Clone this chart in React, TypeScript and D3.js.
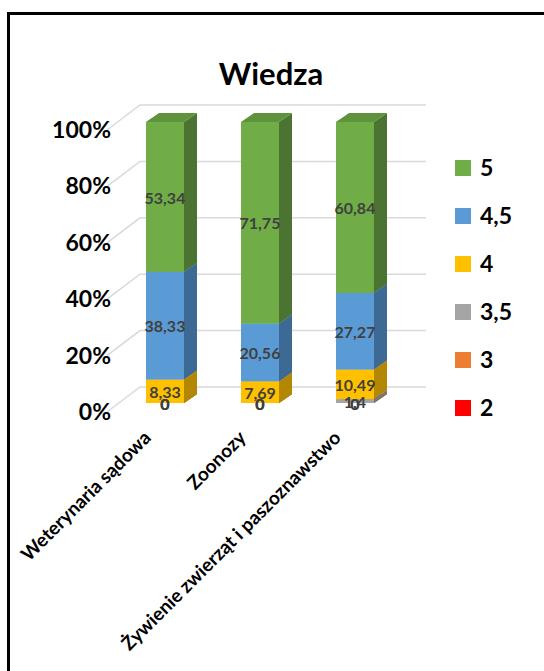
import * as d3 from "d3";

const categories = ["Weterynaria sądowa", "Zoonozy", "Żywienie zwierząt i paszoznawstwo"];
const seriesNames = ["2", "3", "3,5", "4", "4,5", "5"];
const grade2 = [0, 0, 0];
const grade3 = [0, 0, 0];
const grade35 = [0, 0, 1.4];
const grade4 = [8.33, 7.69, 10.49];
const grade45 = [38.33, 20.56, 27.27];
const grade5 = [53.34, 71.75, 60.84];
const yTicks = [0, 20, 40, 60, 80, 100];

const frontColors = ["#FF0000", "#ED7D31", "#A5A5A5", "#FFC000", "#5B9BD5", "#70AD47"];
const sideColors = ["#B30000", "#A9581F", "#757575", "#B38700", "#3D6A94", "#4B7331"];
const topColors = ["#D90000", "#C9692A", "#8C8C8C", "#D9A300", "#4D85B8", "#5E923B"];

const FONT = "Lato, 'Open Sans', sans-serif";

const App = () => {
  const width = 544;
  const height = 671;
  const values = [grade2, grade3, grade35, grade4, grade45, grade5];
  const stack = d3
    .stack<number>()
    .keys(d3.range(seriesNames.length).map(String))
    .value((i, k) => values[+k][i])(d3.range(categories.length));

  // wall (gridlines) and bar scales
  const yWall = d3.scaleLinear([0, 100], [412, 130]);
  const wallDx = 33;
  const wallDy = -25;
  const wallRight = 426;
  const yBar = d3.scaleLinear([0, 100], [403, 122]);
  const xCenter = d3.scalePoint<string>().domain(categories).range([165, 355]);
  const barW = 38;
  const dx = 13;
  const dy = -9;

  return (
    <svg
      width={width}
      height={height}
      style={{ position: "absolute", left: 0, top: 0, background: "#fff" }}
      fontFamily={FONT}
    >
      <rect x={8.5} y={13.5} width={600} height={700} fill="#fff" stroke="#000" strokeWidth={3} />
      <text x={271} y={85} textAnchor="middle" fontSize={31} fontWeight="bold" fill="#000">
        Wiedza
      </text>
      {/* gridlines */}
      <g stroke="#D9D9D9" strokeWidth={1.5} fill="none">
        {yTicks.map((t) => (
          <path
            key={t}
            d={`M${107},${yWall(t)}L${107 + wallDx},${yWall(t) + wallDy}L${wallRight},${yWall(t) + wallDy}`}
          />
        ))}
      </g>
      {yTicks.map((t) => (
        <text
          key={t}
          x={111}
          y={yWall(t)}
          dy="0.35em"
          textAnchor="end"
          fontSize={23}
          fontWeight="bold"
          fill="#000"
        >
          {t}%
        </text>
      ))}
      {/* bars */}
      {categories.map((c, i) => {
        const x0 = (xCenter(c) as number) - barW / 2;
        const x1 = x0 + barW;
        return (
          <g key={c}>
            {stack.map((s, k) => {
              const yb = yBar(s[i][0]);
              const yt = yBar(s[i][1]);
              return (
                <g key={k}>
                  <path
                    d={`M${x1},${yb}L${x1 + dx},${yb + dy}L${x1 + dx},${yt + dy}L${x1},${yt}Z`}
                    fill={sideColors[k]}
                  />
                  <path
                    d={`M${x0},${yt}L${x0 + dx},${yt + dy}L${x1 + dx},${yt + dy}L${x1},${yt}Z`}
                    fill={topColors[k]}
                  />
                  <rect x={x0} y={yt} width={barW} height={yb - yt} fill={frontColors[k]} />
                </g>
              );
            })}
          </g>
        );
      })}
      {/* value labels */}
      {categories.map((c, i) =>
        stack.map((s, k) => (
          <text
            key={`${c}-${k}`}
            x={xCenter(c) as number}
            y={(yBar(s[i][0]) + yBar(s[i][1])) / 2 + 1}
            dy="0.35em"
            textAnchor="middle"
            fontSize={16}
            fontWeight="bold"
            fill="#404040"
          >
            {String(values[k][i]).replace(".", ",")}
          </text>
        ))
      )}
      {/* category labels */}
      {categories.map((c) => (
        <text
          key={c}
          transform={`translate(${(xCenter(c) as number) - 13},${439}) rotate(-45)`}
          textAnchor="end"
          fontSize={19}
          fontWeight="bold"
          fill="#000"
        >
          {c}
        </text>
      ))}
      {/* legend */}
      {seriesNames
        .map((n, k) => ({ n, k }))
        .reverse()
        .map(({ n, k }, j) => (
          <g key={n} transform={`translate(455,${168 + j * 48})`}>
            <rect x={0} y={-8} width={16} height={16} fill={frontColors[k]} />
            <text x={25} y={0} dy="0.36em" fontSize={23} fontWeight="bold" fill="#000">
              {n}
            </text>
          </g>
        ))}
    </svg>
  );
};

export default App;
